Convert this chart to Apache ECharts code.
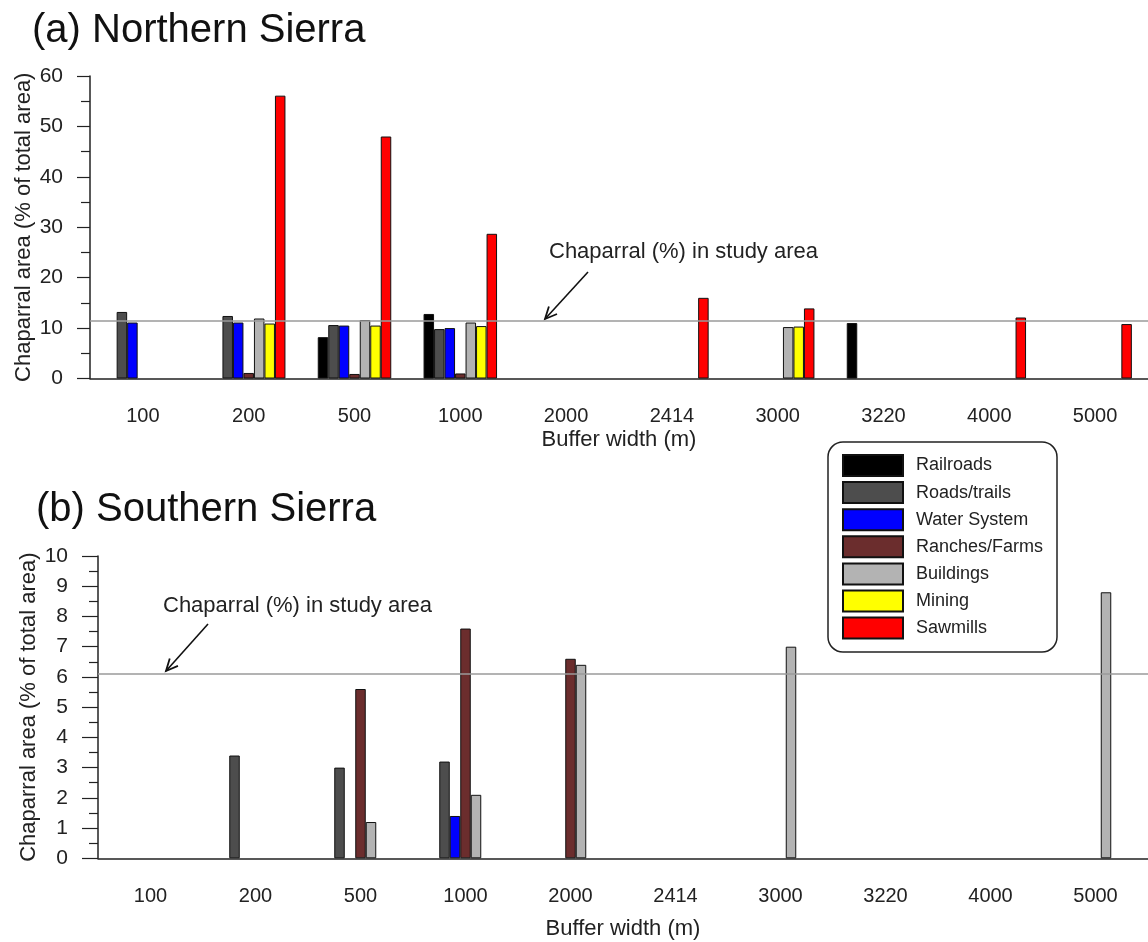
<!DOCTYPE html>
<html>
<head>
<meta charset="utf-8">
<title>Chaparral area by buffer width</title>
<script src="https://cdn.jsdelivr.net/npm/echarts@6/dist/echarts.min.js"></script>
<style>
  html, body { margin: 0; padding: 0; background: #fff; }
  #main { width: 1148px; height: 942px; }
</style>
</head>
<body>
<div id="main"></div>
<script>
// buffer widths (m)
var categories = ['100', '200', '500', '1000', '2000', '2414', '3000', '3220', '4000', '5000'];
var seriesNames = ['Railroads', 'Roads/trails', 'Water System', 'Ranches/Farms', 'Buildings', 'Mining', 'Sawmills'];
var seriesColors = ['#000000', '#4d4d4d', '#0000ff', '#6b2d2d', '#b3b3b3', '#ffff00', '#ff0000'];

// (a) Northern Sierra, chaparral area (% of total area)
var northRailroads = ['-', '-', 8.2, 12.8, '-', '-', '-', 11.0, '-', '-'];
var northRoads     = [13.2, 12.4, 10.6, 9.8, '-', '-', '-', '-', '-', '-'];
var northWater     = [11.1, 11.1, 10.5, 10.0, '-', '-', '-', '-', '-', '-'];
var northRanches   = ['-', 1.1, 0.9, 1.0, '-', '-', '-', '-', '-', '-'];
var northBuildings = ['-', 11.9, 11.6, 11.1, '-', '-', 10.2, '-', '-', '-'];
var northMining    = ['-', 10.9, 10.5, 10.4, '-', '-', 10.3, '-', '-', '-'];
var northSawmills  = ['-', 56.1, 48.0, 28.7, '-', 16.0, 13.9, '-', 12.1, 10.8];
var northStudyArea = 11.46;

// (b) Southern Sierra
var southRailroads = ['-', '-', '-', '-', '-', '-', '-', '-', '-', '-'];
var southRoads     = ['-', 3.4, 3.0, 3.2, '-', '-', '-', '-', '-', '-'];
var southWater     = ['-', '-', '-', 1.4, '-', '-', '-', '-', '-', '-'];
var southRanches   = ['-', '-', 5.6, 7.6, 6.6, '-', '-', '-', '-', '-'];
var southBuildings = ['-', '-', 1.2, 2.1, 6.4, '-', 7.0, '-', '-', 8.8];
var southMining    = ['-', '-', '-', '-', '-', '-', '-', '-', '-', '-'];
var southSawmills  = ['-', '-', '-', '-', '-', '-', '-', '-', '-', '-'];
var southStudyArea = 6.12;

var FONT = '"Liberation Sans", Arial, sans-serif';
var northData = [northRailroads, northRoads, northWater, northRanches, northBuildings, northMining, northSawmills];
var southData = [southRailroads, southRoads, southWater, southRanches, southBuildings, southMining, southSawmills];

function makeSeries(dataSets, axisIdx, refValue) {
    return dataSets.map(function (d, i) {
        var s = {
            name: seriesNames[i],
            type: 'bar',
            xAxisIndex: axisIdx,
            yAxisIndex: axisIdx,
            data: d,
            barWidth: 10.5,
            barGap: '0%',
            itemStyle: { color: seriesColors[i], borderColor: '#111', borderWidth: 1 }
        };
        if (i === 0) {
            s.markLine = {
                silent: true,
                symbol: 'none',
                label: { show: false },
                lineStyle: { color: '#9a9a9a', width: 1.5, type: 'solid' },
                data: [{ yAxis: refValue }]
            };
        }
        return s;
    });
}

function xAxisFor(gridIdx, nameGap) {
    return {
        type: 'category',
        gridIndex: gridIdx,
        data: categories,
        name: 'Buffer width (m)',
        nameLocation: 'middle',
        nameGap: nameGap,
        nameMoveOverlap: false,
        nameTextStyle: { fontFamily: FONT, fontSize: 22, color: '#222' },
        axisLine: { lineStyle: { color: '#222', width: 1.5 } },
        axisTick: { alignWithLabel: true, length: 15, lineStyle: { color: '#222', width: 1.2 } },
        axisLabel: { fontFamily: FONT, fontSize: 20, color: '#222', margin: 28 },
        splitLine: { show: false }
    };
}

function yAxisFor(gridIdx, max, interval, nameGap, tickLen) {
    return {
        type: 'value',
        gridIndex: gridIdx,
        min: 0,
        max: max,
        interval: interval,
        name: 'Chaparral area (% of total area)',
        nameLocation: 'middle',
        nameGap: nameGap,
        nameMoveOverlap: false,
        nameTextStyle: { fontFamily: FONT, fontSize: 22, color: '#222' },
        axisLine: { show: true, lineStyle: { color: '#222', width: 1.5 } },
        axisTick: { show: true, length: tickLen, lineStyle: { color: '#222', width: 1.2 } },
        minorTick: { show: true, splitNumber: 2, length: 9, lineStyle: { color: '#222', width: 1.2 } },
        axisLabel: { fontFamily: FONT, fontSize: 21, color: '#222', margin: tickLen + 14 },
        splitLine: { show: false }
    };
}

// arrow from (x1,y1) to tip (x2,y2)
function arrow(x1, y1, x2, y2) {
    var dx = x1 - x2, dy = y1 - y2;
    var len = Math.sqrt(dx * dx + dy * dy);
    var ux = dx / len, uy = dy / len;
    var a = 25 * Math.PI / 180, h = 13;
    var p1 = [x2 + h * (ux * Math.cos(a) - uy * Math.sin(a)), y2 + h * (ux * Math.sin(a) + uy * Math.cos(a))];
    var p2 = [x2 + h * (ux * Math.cos(a) + uy * Math.sin(a)), y2 + h * (-ux * Math.sin(a) + uy * Math.cos(a))];
    return [
        { type: 'line', shape: { x1: x1, y1: y1, x2: x2, y2: y2 }, style: { stroke: '#111', lineWidth: 1.6 } },
        { type: 'polyline', shape: { points: [p1, [x2, y2], p2] }, style: { stroke: '#111', lineWidth: 1.8, fill: null } }
    ];
}

var graphics = [
    { type: 'text', left: 32, top: 11, style: { text: '(a) Northern Sierra', font: '40px ' + FONT, fill: '#111' } },
    { type: 'text', left: 36, top: 490, style: { text: '(b) Southern Sierra', font: '40px ' + FONT, fill: '#111' } },
    { type: 'text', left: 549, top: 241, style: { text: 'Chaparral (%) in study area', font: '22px ' + FONT, fill: '#222' } },
    { type: 'text', left: 163, top: 595, style: { text: 'Chaparral (%) in study area', font: '22px ' + FONT, fill: '#222' } },
    {
        type: 'rect', shape: { x: 828, y: 442, width: 229, height: 210, r: 15 },
        style: { fill: '#fff', stroke: '#222', lineWidth: 1.5 }, z: 5
    }
].concat(arrow(588, 272, 545, 319)).concat(arrow(208, 624, 166, 671));

var myChart = echarts.init(document.getElementById('main'));
var option = {
    animation: false,
    backgroundColor: '#fff',
    textStyle: { fontFamily: FONT },
    grid: [
        { left: 90, top: 76, width: 1059, height: 302.5 },
        { left: 98, top: 556, width: 1059, height: 302.3 }
    ],
    xAxis: [xAxisFor(0, 50), xAxisFor(1, 60)],
    yAxis: [yAxisFor(0, 60, 10, 55, 13), yAxisFor(1, 10, 1, 58, 16)],
    legend: {
        data: seriesNames,
        orient: 'vertical',
        left: 842,
        top: 454,
        padding: 0,
        itemWidth: 60,
        itemHeight: 21,
        itemGap: 4.1,
        icon: 'rect',
        selectedMode: false,
        z: 10,
        textStyle: { fontFamily: FONT, fontSize: 18, lineHeight: 21, color: '#222', padding: [0, 0, 0, 8] }
    },
    graphic: graphics,
    series: makeSeries(northData, 0, northStudyArea).concat(makeSeries(southData, 1, southStudyArea))
};
myChart.setOption(option);
window.addEventListener('resize', function () {
    myChart.resize();
});
</script>
</body>
</html>
